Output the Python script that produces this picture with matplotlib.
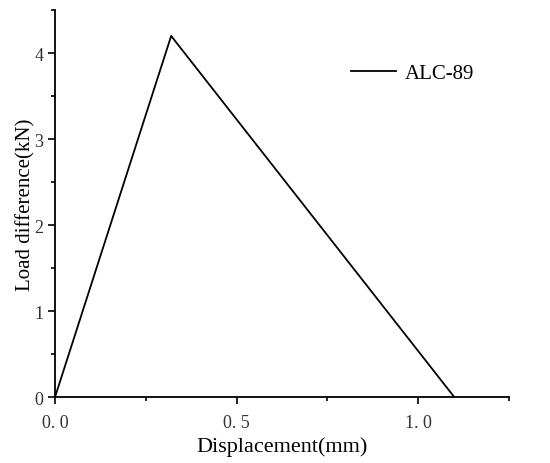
import matplotlib
matplotlib.use("Agg")
import matplotlib.pyplot as plt
from matplotlib.ticker import MultipleLocator

# Data
displacement_mm = [0.0, 0.32, 1.10]
load_diff_kn = [0.0, 4.2, 0.0]
series_label = "ALC-89"

x_ticks = [0.0, 0.5, 1.0]
x_ticklabels = ["0. 0", "0. 5", "1. 0"]
y_ticks = [0, 1, 2, 3, 4]

plt.rcParams["font.family"] = ["Liberation Serif", "DejaVu Serif"]

fig = plt.figure(figsize=(5.5, 4.64), dpi=100)
ax = fig.add_axes([0.1, 0.142, 0.825, 0.834])

ax.plot(displacement_mm, load_diff_kn, color="black", lw=1.3, label=series_label)

ax.set_xlim(0, 1.25)
ax.set_ylim(0, 4.5)
ax.set_xticks(x_ticks)
ax.set_xticklabels(x_ticklabels)
ax.set_yticks(y_ticks)
ax.xaxis.set_minor_locator(MultipleLocator(0.25))
ax.yaxis.set_minor_locator(MultipleLocator(0.5))

for side in ("top", "right"):
    ax.spines[side].set_visible(False)
for side in ("left", "bottom"):
    ax.spines[side].set_linewidth(1.3)

ax.tick_params(which="major", direction="out", length=5, width=1.2,
               labelsize=13, labelcolor="#333333")
ax.tick_params(axis="x", which="major", pad=7)
ax.tick_params(which="minor", direction="out", length=3, width=1.2)

ax.set_xlabel("Displacement(mm)", fontsize=16, labelpad=4)
ax.set_ylabel("Load difference(kN)", fontsize=15, labelpad=-1)

ax.legend(loc="upper left", bbox_to_anchor=(0.61, 0.91), frameon=False,
          fontsize=15, handlelength=2.2, handletextpad=0.4)

fig.savefig("out.png", dpi=100)
